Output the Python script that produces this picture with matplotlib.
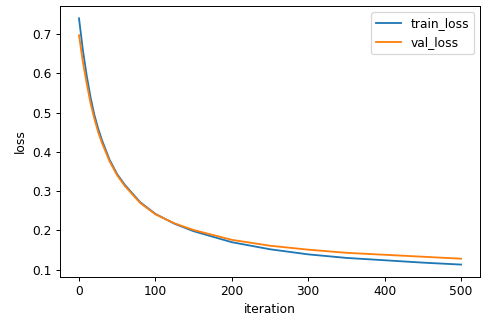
import matplotlib.pyplot as plt

# loss values logged during training
iterations = [0, 5, 10, 15, 20, 25, 30, 40, 50, 60, 80, 100, 125, 150, 200, 250, 300, 350, 400, 450, 500]
train_loss = [0.740, 0.660, 0.595, 0.540, 0.495, 0.460, 0.430, 0.380, 0.343, 0.316, 0.272, 0.242,
              0.217, 0.198, 0.170, 0.152, 0.139, 0.130, 0.124, 0.118, 0.113]
val_loss = [0.697, 0.630, 0.575, 0.525, 0.485, 0.451, 0.423, 0.376, 0.340, 0.313, 0.270, 0.241,
            0.218, 0.201, 0.176, 0.161, 0.151, 0.143, 0.138, 0.133, 0.128]

dpi = 88
fig = plt.figure(figsize=(495 / dpi, 325 / dpi), dpi=dpi)
fig.subplots_adjust(left=0.121, right=0.970, top=0.9815, bottom=0.148)

plt.plot(iterations, train_loss, label="train_loss")
plt.plot(iterations, val_loss, label="val_loss")
plt.xlabel("iteration")
plt.ylabel("loss")
plt.legend()

plt.savefig("out.png", dpi=dpi)
plt.close()
